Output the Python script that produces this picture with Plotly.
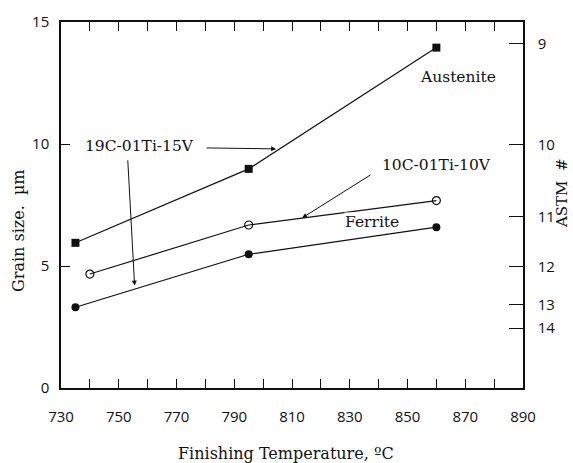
import plotly.graph_objects as go

# Finishing temperature (°C) and grain size (µm)
temp_austenite = [735, 795, 860]
size_austenite = [5.95, 8.98, 13.95]

temp_10c = [740, 795, 860]
size_10c = [4.67, 6.68, 7.68]

temp_ferrite = [735, 795, 860]
size_ferrite = [3.31, 5.48, 6.59]

# ASTM grain size numbers and their equivalent mean diameters (µm)
astm_numbers = ["9", "10", "11", "12", "13", "14"]
astm_sizes_um = [14.1, 9.96, 7.02, 4.97, 3.43, 2.45]

x_ticks = [730, 750, 770, 790, 810, 830, 850, 870, 890]
y_ticks = [0, 5, 10, 15]

SERIF = "DejaVu Serif"
SANS = "Open Sans"
BLACK = "#111111"

fig = go.Figure()

fig.add_trace(go.Scatter(
    x=temp_austenite, y=size_austenite, mode="lines+markers",
    line=dict(color=BLACK, width=1.2),
    marker=dict(symbol="square", size=8, color=BLACK),
    showlegend=False, cliponaxis=False))

fig.add_trace(go.Scatter(
    x=temp_10c, y=size_10c, mode="lines+markers",
    line=dict(color=BLACK, width=1.2),
    marker=dict(symbol="circle-open", size=8, color=BLACK, line=dict(width=1.2)),
    showlegend=False, cliponaxis=False))

fig.add_trace(go.Scatter(
    x=temp_ferrite, y=size_ferrite, mode="lines+markers",
    line=dict(color=BLACK, width=1.2),
    marker=dict(symbol="circle", size=8, color=BLACK),
    showlegend=False, cliponaxis=False))

# carrier for the ASTM scale on the right
fig.add_trace(go.Scatter(x=[None], y=[None], yaxis="y2", showlegend=False,
                         hoverinfo="skip"))

annotations = [
    # series labels
    dict(x=757.2, y=9.92, text="19C-01Ti-15V", showarrow=False),
    dict(x=867.5, y=12.75, text="Austenite", showarrow=False),
    dict(x=859.9, y=9.14, text="10C-01Ti-10V", showarrow=False),
    dict(x=837.7, y=6.80, text="Ferrite", showarrow=False,
         bgcolor="white", borderpad=0),
    # pointer arrows
    dict(x=804.5, y=9.8, ax=779.9, ay=9.84, axref="x", ayref="y",
         showarrow=True, arrowhead=2, arrowsize=1, arrowwidth=1,
         arrowcolor=BLACK, text=""),
    dict(x=755.5, y=4.2, ax=753.1, ay=9.39, axref="x", ayref="y",
         showarrow=True, arrowhead=2, arrowsize=1, arrowwidth=1,
         arrowcolor=BLACK, text=""),
    dict(x=813.5, y=6.97, ax=837.7, ay=8.77, axref="x", ayref="y",
         showarrow=True, arrowhead=2, arrowsize=1, arrowwidth=1,
         arrowcolor=BLACK, text=""),
]
for a in annotations:
    a.setdefault("xref", "x")
    a.setdefault("yref", "y")
    a["font"] = dict(family=SERIF, size=15.5, color=BLACK)

# axis titles
annotations += [
    dict(xref="paper", yref="paper", x=0.5, y=0, yshift=-65,
         xanchor="center", yanchor="middle", xshift=-6,
         text="Finishing Temperature, ºC", showarrow=False,
         font=dict(family=SERIF, size=16, color=BLACK)),
    dict(xref="paper", yref="paper", x=0, y=0.5, xshift=-43, yshift=-26,
         xanchor="center", yanchor="middle",
         text="Grain size.  µm", textangle=-90, showarrow=False,
         font=dict(family=SERIF, size=16, color=BLACK)),
    dict(xref="paper", yref="paper", x=1, y=0.5, xshift=39, yshift=12,
         xanchor="center", yanchor="middle",
         text="ASTM  #", textangle=-90, showarrow=False,
         font=dict(family=SERIF, size=15, color=BLACK)),
]

fig.update_layout(
    width=573, height=463,
    margin=dict(l=61, r=50, t=22, b=75),
    plot_bgcolor="white", paper_bgcolor="white",
    annotations=annotations,
    xaxis=dict(
        range=[730, 890], tickvals=x_ticks,
        ticks="inside", ticklen=9, tickwidth=1.2, tickcolor=BLACK,
        minor=dict(dtick=10, tick0=730, ticks="inside", ticklen=9,
                   tickwidth=1.2, tickcolor=BLACK, showgrid=False),
        showline=True, linecolor=BLACK, linewidth=1.5, mirror="ticks",
        showgrid=False, zeroline=False,
        ticklabelstandoff=14,
        tickfont=dict(family=SANS, size=15, color=BLACK)),
    yaxis=dict(
        range=[0, 15], tickvals=y_ticks,
        ticks="inside", ticklen=9, tickwidth=1.2, tickcolor=BLACK,
        showline=True, linecolor=BLACK, linewidth=1.5,
        showgrid=False, zeroline=False,
        ticklabelstandoff=7,
        tickfont=dict(family=SANS, size=15, color=BLACK)),
    yaxis2=dict(
        range=[0, 15], overlaying="y", side="right",
        tickvals=astm_sizes_um, ticktext=astm_numbers,
        ticks="inside", ticklen=14, tickwidth=1.2, tickcolor=BLACK,
        showline=True, linecolor=BLACK, linewidth=1.5,
        showgrid=False, zeroline=False,
        ticklabelstandoff=10,
        tickfont=dict(family=SANS, size=15, color=BLACK)),
)

fig.write_html("out.html")
